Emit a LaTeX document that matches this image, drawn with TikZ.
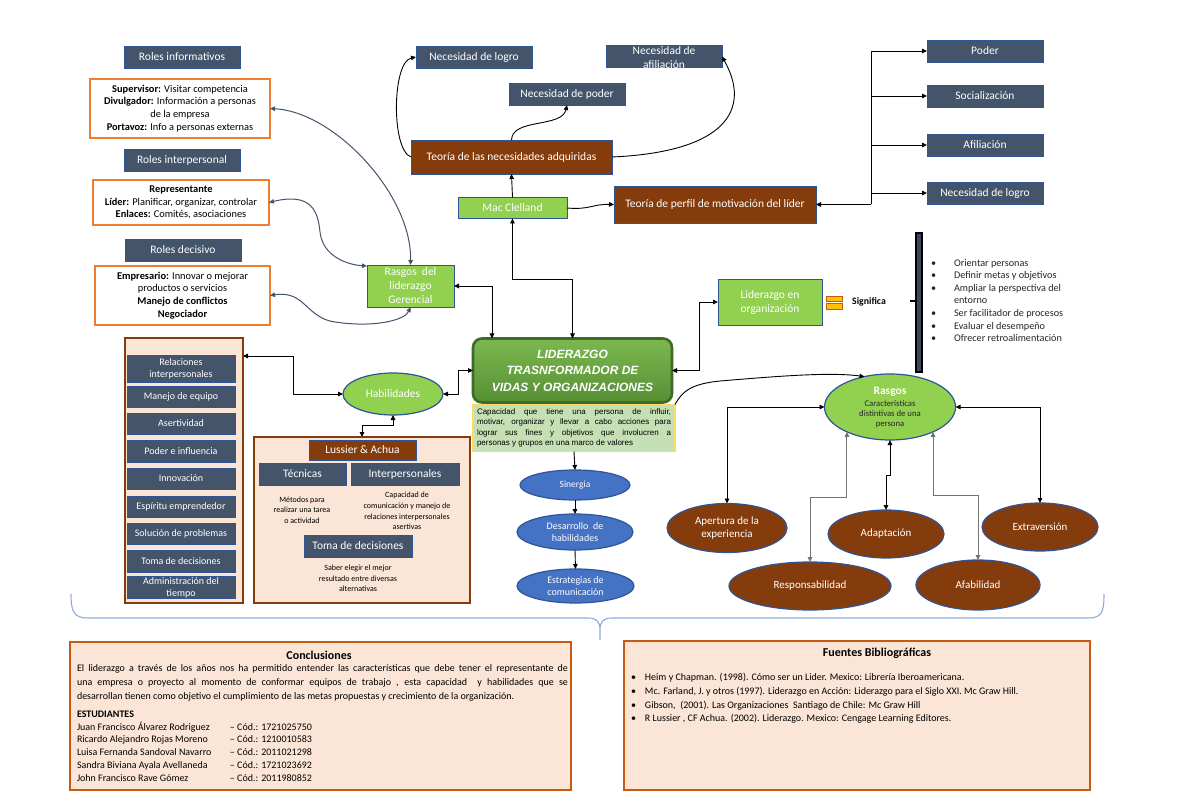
\documentclass[tikz,border=0pt]{standalone}
\usepackage{fontspec}
\setmainfont{Carlito}
\newfontfamily\arialf{Liberation Sans}
\usetikzlibrary{arrows.meta,shapes.geometric,calc}
\newcommand\myfs[2]{\fontsize{#1}{#2}\selectfont}
\definecolor{slate}{HTML}{44546A}
\definecolor{bblue}{HTML}{2F5597}
\definecolor{brn}{HTML}{843C0C}
\definecolor{lgreen}{HTML}{92D050}
\definecolor{peach}{HTML}{FBE5D6}
\definecolor{orng}{HTML}{ED7D31}
\definecolor{dorng}{HTML}{C55A11}
\definecolor{mblue}{HTML}{4472C4}
\definecolor{dgreen}{HTML}{7CB850}
\definecolor{ddgreen}{HTML}{578F34}
\definecolor{lidborder}{HTML}{3E6B27}
\definecolor{descg}{HTML}{C5E0B4}
\definecolor{ylw}{HTML}{FFD966}
\definecolor{gold}{HTML}{FFC000}
\definecolor{bracec}{HTML}{8FAADC}
\begin{document}
\begin{tikzpicture}[x=1pt,y=-1pt,
  >={Triangle[length=5pt,width=4.5pt]},
  base/.style={inner sep=0pt, outer sep=0pt, align=center, line width=0.9pt},
  dbox/.style={base, draw=bblue, fill=slate, text=white, font=\myfs{11.5}{13.5}},
  bbox/.style={base, draw=bblue, fill=brn, text=white, font=\myfs{11.5}{13.5}},
  gbox/.style={base, draw=bblue, fill=lgreen, text=white, font=\myfs{11.5}{14}},
  obox/.style={base, draw=orng, fill=white, text=black, font=\myfs{10.4}{12.7}, line width=1.2pt},
  cont/.style={base, draw=brn, fill=peach, line width=1.2pt},
  item/.style={dbox, minimum width=108pt, minimum height=21pt, font=\myfs{10}{12}},
  bell/.style={base, ellipse, draw=bblue, fill=brn, text=white, font=\myfs{11}{13.5}, line width=1.2pt},
  blell/.style={base, ellipse, draw=bblue, fill=mblue, text=white, font=\myfs{10}{12.5}, line width=1.2pt},
  gell/.style={base, ellipse, draw=bblue, fill=lgreen, text=white, line width=1.2pt},
  conn/.style={draw=black, line width=0.9pt},
  gconn/.style={draw=black!55, line width=0.9pt},
  scurve/.style={draw=slate, line width=1pt},
  small/.style={base, font=\myfs{8}{10.6}, text=black}
]
\useasboundingbox (0,0) rectangle (1200,794);
\fill[white] (0,0) rectangle (1200,794);

% ---------- left roles ----------
\node[dbox, minimum width=116pt, minimum height=22pt] (ri) at (182,57) {Roles informativos};
\node[obox, minimum width=180pt, minimum height=59pt] (rib) at (180,108.5)
 {\textbf{Supervisor:} Visitar competencia\\\textbf{Divulgador:} Información a personas\\de la empresa\\\textbf{Portavoz:} Info a personas externas};
\node[dbox, minimum width=116pt, minimum height=22pt] (rp) at (182,160.5) {Roles interpersonal};
\node[obox, minimum width=176pt, minimum height=45pt] (rpb) at (181,202.5)
 {\textbf{Representante}\\\textbf{Líder:} Planificar, organizar, controlar\\\textbf{Enlaces:} Comités, asociaciones};
\node[dbox, minimum width=116pt, minimum height=22pt] (rd) at (183,250) {Roles decisivo};
\node[obox, minimum width=175pt, minimum height=59pt] (rdb) at (182.5,295.5)
 {\textbf{Empresario:} Innovar o mejorar\\productos o servicios\\\textbf{Manejo de conflictos}\\\textbf{Negociador}};
\node[gbox, minimum width=87pt, minimum height=42pt] (rg) at (410.5,286) {Rasgos\ \ del\\liderazgo\\Gerencial};

\draw[scurve,<->] (rib.east) .. controls (335,112) and (412,195) .. (rg.north);
\draw[scurve,<->] (rpb.east) .. controls (312,192) and (318,212) .. (320,232) .. controls (323,258) and (350,265) .. ([yshift=-1pt]rg.north west);
\draw[scurve,<->] (rdb.east) .. controls (305,290) and (306,318) .. (335,322) .. controls (375,328) and (405,320) .. (rg.south);

% ---------- top middle ----------
\node[dbox, minimum width=116pt, minimum height=22pt] (nl) at (474,57) {Necesidad de logro};
\node[dbox, minimum width=116pt, minimum height=22pt] (na) at (664,56.5) {};
\node[base, text=white, font=\myfs{11.5}{14}] (nat) at (664,58) {Necesidad de\\afiliación};
\node[dbox, minimum width=116pt, minimum height=22pt] (np) at (567,94) {Necesidad de poder};
\node[bbox, minimum width=201pt, minimum height=34pt] (tn) at (511.5,157) {Teoría de las necesidades adquiridas};
\node[gbox, minimum width=109pt, minimum height=21pt] (mc) at (512.5,208) {Mac Clelland};
\node[bbox, minimum width=202pt, minimum height=37pt] (tp) at (715,204.5) {Teoría de perfil de motivación del líder};

\draw[conn,->] (tn.west) .. controls (391,150) and (392,62) .. (nl.west);
\draw[conn,->] (tn.north) .. controls (512,118) and (562,128) .. (np.south);
\draw[conn,->] (tn.east) .. controls (725,152) and (752,110) .. (na.east);
\draw[conn,->] (mc.north) -- (tn.south);
\draw[conn,->] (mc.east) .. controls (590,210) and (592,204) .. (tp.west);

% ---------- right list ----------
\node[dbox, minimum width=116pt, minimum height=22pt] (pod) at (985,51) {Poder};
\node[dbox, minimum width=116pt, minimum height=22pt] (soc) at (985,96) {Socialización};
\node[dbox, minimum width=116pt, minimum height=22pt] (afi) at (985,145) {Afiliación};
\node[dbox, minimum width=116pt, minimum height=22pt] (nlg) at (985,193) {Necesidad de logro};
\coordinate (br) at (871,204.5);
\draw[conn,<-] (tp.east) -- (br);
\draw[conn,->] (br) |- (pod.west);
\draw[conn,->] (br) |- (soc.west);
\draw[conn,->] (br) |- (afi.west);
\draw[conn,->] (br) |- (nlg.west);

% ---------- centre ----------
\node[base, rounded corners=9pt, draw=lidborder, line width=2.6pt, top color=dgreen, bottom color=ddgreen,
  minimum width=199pt, minimum height=64pt, text=white, font=\arialf\bfseries\itshape\myfs{12}{16.5}] (lid) at (572.5,370.5)
  {LIDERAZGO\\TRASNFORMADOR DE\\VIDAS Y ORGANIZACIONES};
\node[draw=ylw, fill=descg, line width=1.2pt, text width=194pt, align=justify, inner sep=4pt, outer sep=0pt,
  minimum height=47pt, font=\arialf\myfs{8}{10.4}] (desc) at (574,428)
  {Capacidad que tiene una persona de influir,\linebreak motivar, organizar y llevar a cabo acciones para\linebreak lograr sus fines y objetivos que involucren a\linebreak personas y grupos en una marco de valores};

\draw[conn,<->] (mc.south) -- (512.5,279) -| (lid.north);
\draw[conn,<->] (rg.east) -| ($(lid.north)+(-80.5,0)$);

\node[gbox, minimum width=104pt, minimum height=46pt] (lo) at (770,302) {Liderazgo en\\organización};
\draw[conn,<->] (lid.east) -- (699,370.5) |- (lo.west);

\draw[draw=dorng, fill=gold, line width=0.6pt] (826,296) rectangle (842,301.5);
\draw[draw=dorng, fill=gold, line width=0.6pt] (826,303.5) rectangle (842,309);
\node[base, font=\bfseries\myfs{9.8}{11}] (sig) at (869,302) {Significa};
\draw[line width=1.5pt, fill=slate!85!black] (916,233) rectangle (922,372);
\draw[line width=2.2pt] (910,301) -- (916,301);
\node[base, anchor=north west, align=left, font=\myfs{10.2}{12.6}, text=black!85] (bul) at (931,259)
 {\makebox[23pt][l]{•}Orientar personas\\
  \makebox[23pt][l]{•}Definir metas y objetivos\\
  \makebox[23pt][l]{•}Ampliar la perspectiva del\\
  \hspace*{23pt}entorno\\
  \makebox[23pt][l]{•}Ser facilitador de procesos\\
  \makebox[23pt][l]{•}Evaluar el desempeño\\
  \makebox[23pt][l]{•}Ofrecer retroalimentación};

% ---------- Rasgos ----------
\node[gell, minimum width=131pt, minimum height=66pt] (ras) at (890,407) {};
\node[base, text=white, font=\bfseries\myfs{11.5}{13}] (rast) at (890,392) {Rasgos};
\node[base, text=black!85, font=\myfs{8.7}{10}] (rasd) at (890,414.5) {Características\\distintivas de una\\persona};
\draw[conn,->] (desc.north east) .. controls (682,392) and (690,384) .. (720,381) .. controls (780,376) and (830,372) .. (ras.130);

\node[bell, minimum width=120pt, minimum height=49pt] (ap) at (727,528) {Apertura de la\\experiencia};
\node[bell, minimum width=162pt, minimum height=48pt] (re) at (810,586) {Responsabilidad};
\node[bell, minimum width=116pt, minimum height=48pt] (ad) at (886,534) {Adaptación};
\node[bell, minimum width=124pt, minimum height=50pt] (af) at (978,585) {Afabilidad};
\node[bell, minimum width=116pt, minimum height=48pt] (ex) at (1040,527) {Extraversión};

\draw[conn,<->] (ras.west) -| (ap.north);
\draw[conn,<->] (ras.east) -| (ex.north);
\draw[gconn,<->] (ras.-150) |- ($(re.north)+(0,-65)$) -- (re.north);
\draw[gconn,<->] (ras.-30) |- ($(af.north)+(0,-65)$) -- (af.north);
\draw[conn,<->] (ras.south) -- (890,475) -- (886,475) -- (ad.north);

% ---------- Sinergia column ----------
\node[blell, minimum width=110pt, minimum height=30pt, font=\myfs{9.5}{12}] (sin) at (575,485) {Sinergia};
\node[blell, minimum width=116pt, minimum height=36pt] (des) at (575,532) {Desarrollo\ \ de\\habilidades};
\node[blell, minimum width=117pt, minimum height=34pt] (est) at (575.5,586) {Estrategias de\\comunicación};
\draw[conn,->] (desc.south) -- (sin.north);
\draw[conn,->] (sin.south) -- (des.north);
\draw[conn,->] (des.south) -- (est.north);

% ---------- Habilidades ----------
\node[gell, minimum width=100pt, minimum height=42pt, font=\myfs{11.5}{13}] (hab) at (393,394) {Habilidades};
\node[cont, minimum width=118pt, minimum height=265pt] (lc) at (184,470.5) {};
\node[item, minimum height=27pt] (i1) at (181,368.5) {Relaciones\\interpersonales};
\node[item] (i2) at (181,397) {Manejo de equipo};
\node[item] (i3) at (181,423.5) {Asertividad};
\node[item, minimum height=22pt] (i4) at (181,451) {Poder e influencia};
\node[item] (i5) at (181,478.5) {Innovación};
\node[item] (i6) at (181,506.5) {Espíritu emprendedor};
\node[item] (i7) at (181,533.5) {Solución de problemas};
\node[item, minimum height=22pt] (i8) at (181,561) {Toma de decisiones};
\node[item, minimum height=22pt] (i9) at (181,587.5) {Administración del\\tiempo};

\draw[conn,<->] ($(lc.north east)+(0,18)$) -- (293,356) |- (hab.west);
\draw[conn,<->] (hab.east) -- ++(15,0) |- (lid.west);

\node[cont, minimum width=216pt, minimum height=166pt] (lus) at (362,520) {};
\draw[conn,<->] (hab.south) -- (393,425) -| (lus.north);
\node[bbox, minimum width=107pt, minimum height=20pt] (la) at (362.5,450) {Lussier \& Achua};
\node[dbox, minimum width=87pt, minimum height=22pt] (tec) at (302.5,474) {Técnicas};
\node[dbox, minimum width=108pt, minimum height=22pt] (int) at (405,474) {Interpersonales};
\node[small] (tect) at (302,510) {Métodos para\\realizar una tarea\\o actividad};
\node[small] (intt) at (407,511) {Capacidad de\\comunicación y manejo de\\relaciones interpersonales\\asertivas};
\node[dbox, minimum width=108pt, minimum height=22pt] (tom) at (358,546) {Toma de decisiones};
\node[small] (tomt) at (358,578.5) {Saber elegir el mejor\\resultado entre diversas\\alternativas};

% ---------- brace ----------
\draw[bracec, line width=1.1pt]
  (71,594) .. controls (71,612) and (74,618) .. (88,618) -- (588,618) .. controls (597,618) and (600,622) .. (600,630) -- (600,640)
  (600,630) .. controls (600,622) and (603,618) .. (612,618) -- (1088,618) .. controls (1102,618) and (1104,612) .. (1104,594);

% ---------- bottom ----------
\node[base, draw=dorng, fill=peach, line width=1.3pt, minimum width=501pt, minimum height=148pt] (conc) at (320.5,716) {};
\node[base, font=\bfseries\myfs{12}{13}] (conct) at (319,655) {Conclusiones};
\node[base, anchor=north west, text width=491pt, align=justify, font=\myfs{10}{13.8}] (cpar) at (77,664.5)
 {El liderazgo a través de los años nos ha permitido entender las características que debe tener el representante de\linebreak una empresa o proyecto al momento de conformar equipos de trabajo , esta capacidad \ y habilidades que se\linebreak desarrollan tienen como objetivo el cumplimiento de las metas propuestas y crecimiento de la organización.};
\node[base, anchor=north west, align=left, font=\myfs{10}{12.7}] (stu) at (77,711)
 {\textbf{ESTUDIANTES}\\
  \makebox[153pt][l]{Juan Francisco Álvarez Rodriguez}– Cód.: 1721025750\\
  \makebox[153pt][l]{Ricardo Alejandro Rojas Moreno}– Cód.: 1210010583\\
  \makebox[153pt][l]{Luisa Fernanda Sandoval Navarro}– Cód.: 2011021298\\
  \makebox[153pt][l]{Sandra Biviana Ayala Avellaneda}– Cód.: 1721023692\\
  \makebox[153pt][l]{John Francisco Rave Gómez}– Cód.: 2011980852};

\node[base, draw=dorng, fill=peach, line width=1.3pt, minimum width=466pt, minimum height=149pt] (fue) at (857,715.5) {};
\node[base, font=\bfseries\myfs{12}{13}] (fuet) at (877,653) {Fuentes Bibliográficas};
\node[base, anchor=north west, align=left, font=\myfs{10}{13.7}] (fuel) at (631,673.5)
 {\makebox[14pt][l]{•}Heim y Chapman. (1998). Cómo ser un Lider. Mexico: Librería Iberoamericana.\\
  \makebox[14pt][l]{•}Mc. Farland, J. y otros (1997). Liderazgo en Acción: Liderazgo para el Siglo XXI. Mc Graw Hill.\\
  \makebox[14pt][l]{•}Gibson, \ (2001). Las Organizaciones \ Santiago de Chile: Mc Graw Hill\\
  \makebox[14pt][l]{•}R Lussier , CF Achua. (2002). Liderazgo. Mexico: Cengage Learning Editores.};
\end{tikzpicture}
\end{document}
